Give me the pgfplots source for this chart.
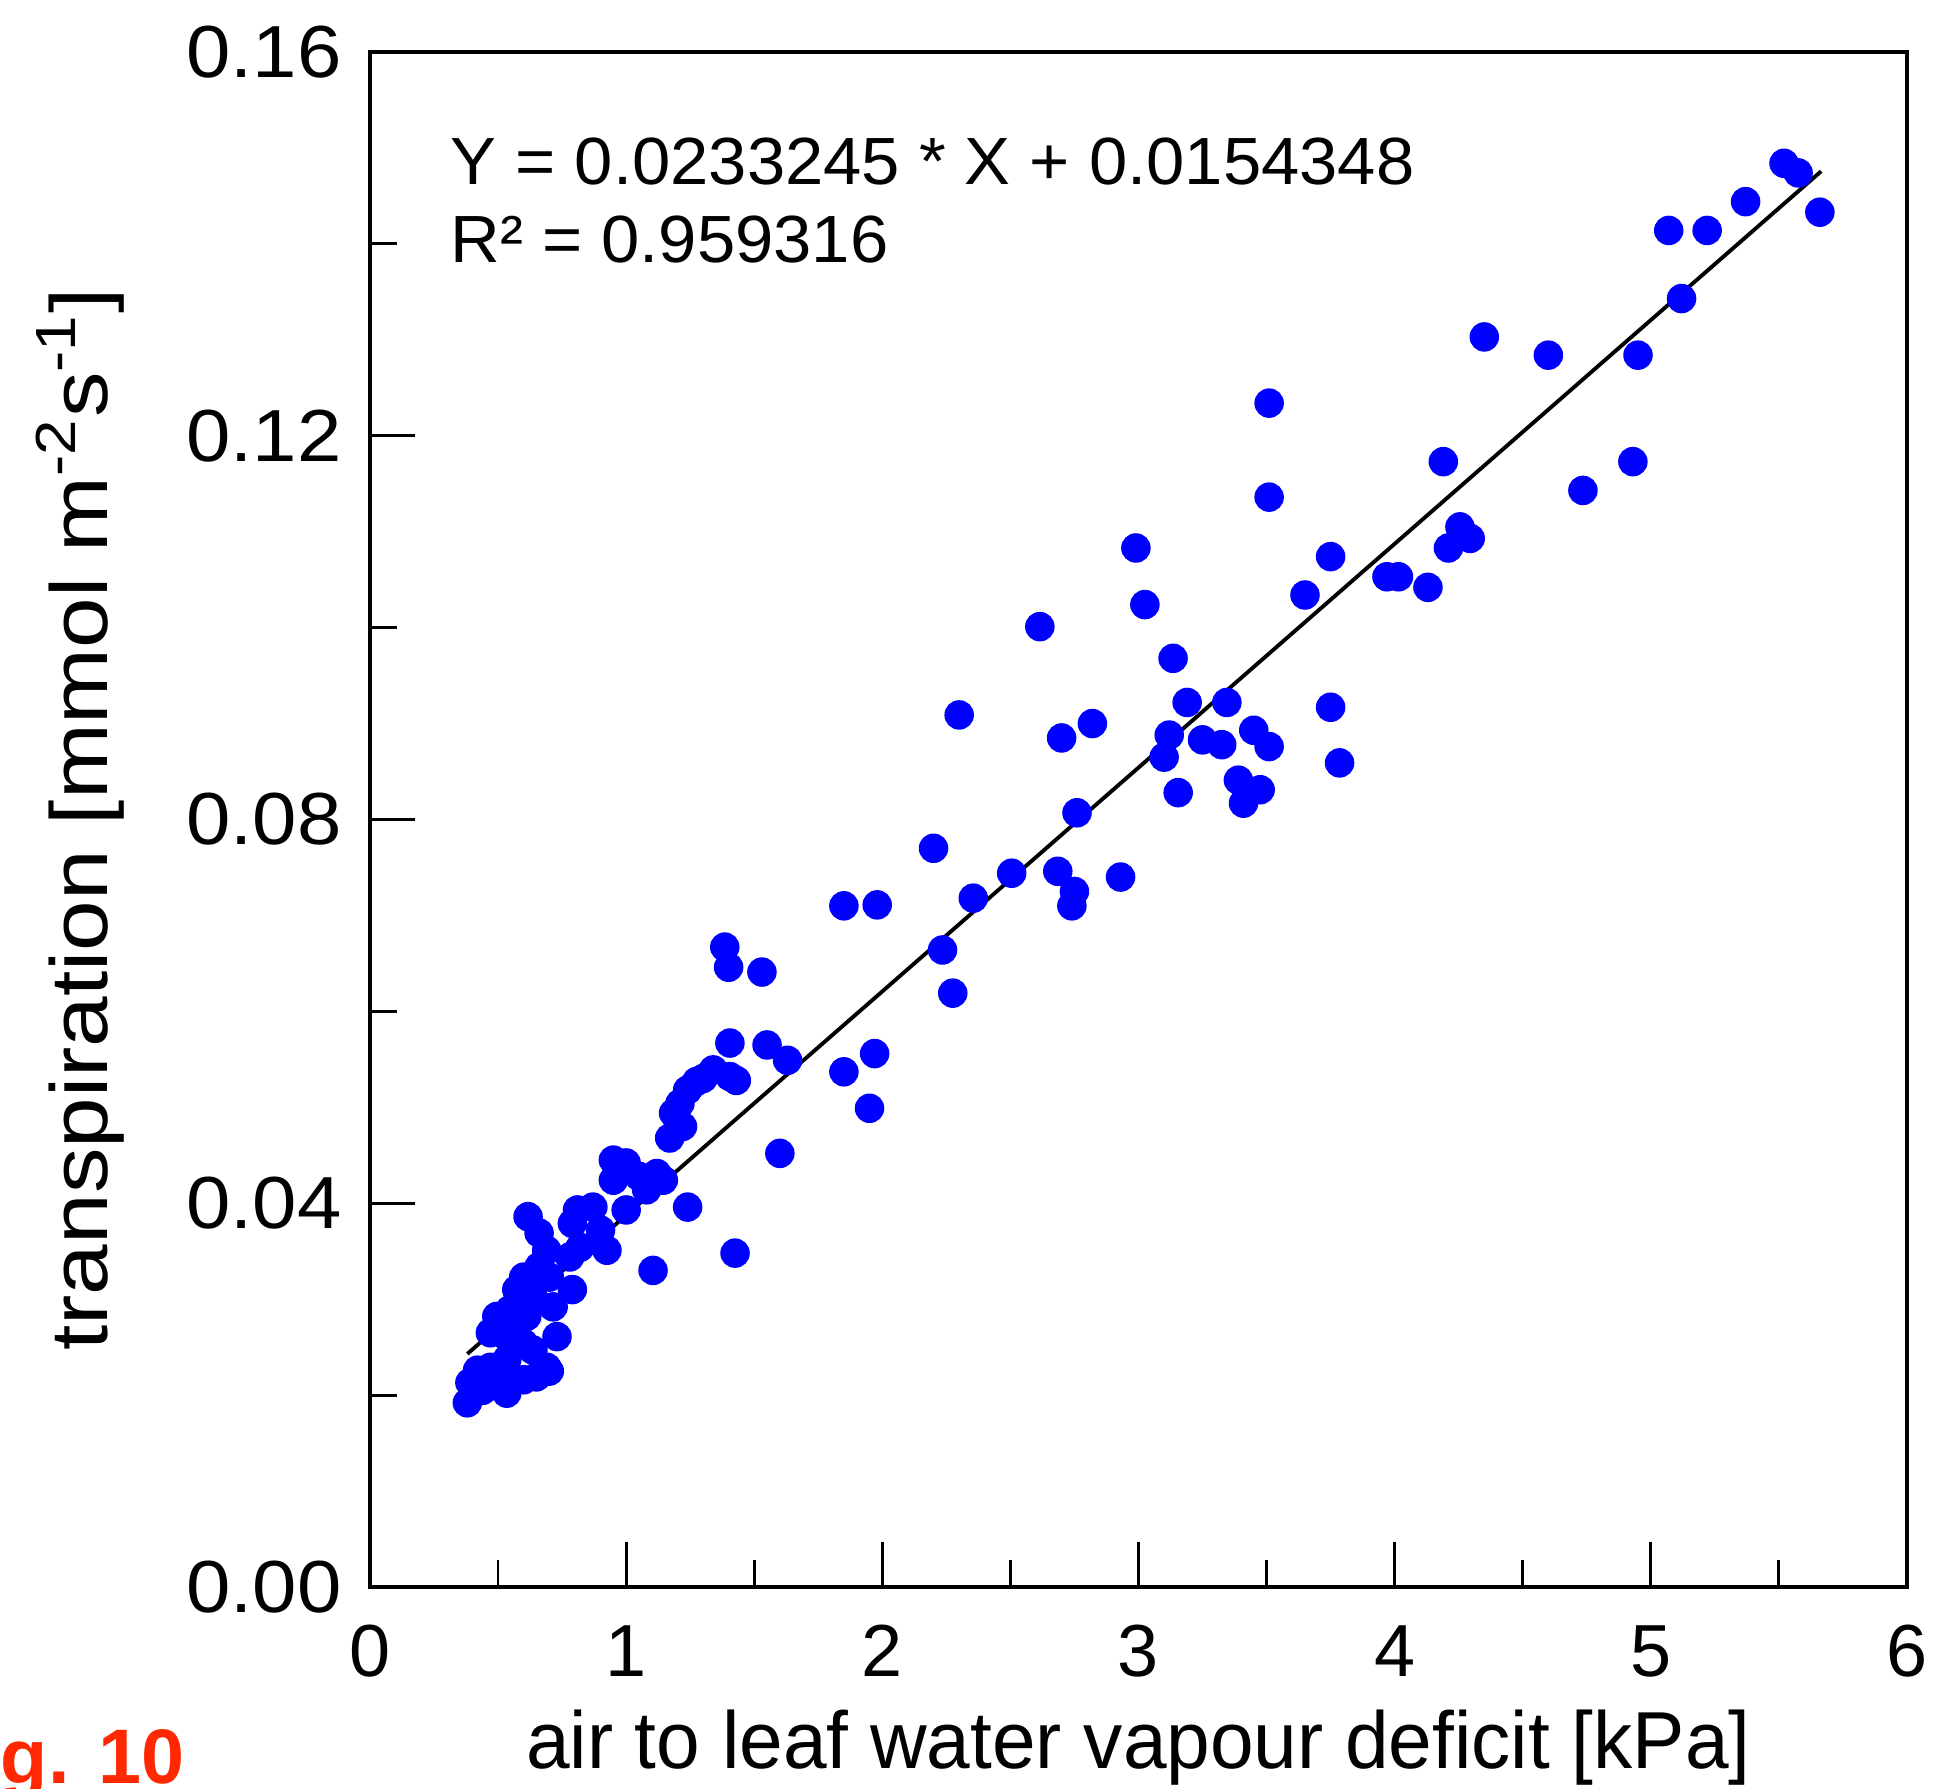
\documentclass[border=0pt]{standalone}
\usepackage{fontspec}
\setmainfont{Liberation Sans}
\usepackage{pgfplots}
\pgfplotsset{compat=1.18}
\definecolor{figred}{RGB}{255,40,0}
\begin{document}
\begin{tikzpicture}
\useasboundingbox (-3.70cm,-2.02cm) rectangle (15.63cm,15.87cm);
\begin{axis}[
  at={(0,0)}, anchor=south west,
  width=15.37cm, height=15.35cm, scale only axis,
  xmin=0, xmax=6, ymin=0, ymax=0.16,
  xtick={0,1,2,3,4,5,6},
  minor xtick={0.5,1.5,2.5,3.5,4.5,5.5},
  ytick={0,0.04,0.08,0.12,0.16},
  yticklabels={0.00,0.04,0.08,0.12,0.16},
  minor ytick={0.02,0.06,0.10,0.14},
  xtick pos=bottom, ytick pos=left,
  tick align=inside,
  major tick length=0.45cm, minor tick length=0.27cm,
  axis line style={line width=0.9pt},
  every tick/.style={black, line width=0.8pt},
  /pgf/number format/assume math mode=true,
  tick label style={font=\fontsize{21}{25}\selectfont},
  xticklabel style={yshift=-0.26cm},
  yticklabel style={xshift=-0.15cm, xscale=1.08},
  clip=false,
]
\addplot[only marks, mark=*, mark size=4pt, color={rgb,255:red,0;green,0;blue,255}] table {
x y
5.52 0.1484
5.575 0.1474
5.66 0.1433
5.37 0.1444
5.22 0.1414
5.07 0.1414
5.12 0.1343
4.95 0.1284
4.60 0.1284
4.35 0.1303
4.93 0.1173
4.735 0.1143
4.19 0.1173
4.255 0.1105
4.295 0.1093
4.21 0.1083
4.13 0.1042
3.97 0.1053
4.015 0.1053
3.75 0.1074
3.65 0.1034
3.51 0.1234
3.51 0.1136
2.99 0.1083
3.025 0.1024
2.615 0.1001
3.135 0.0968
3.19 0.0922
3.345 0.0922
3.75 0.0917
2.30 0.0909
2.82 0.0900
2.70 0.0885
3.12 0.0888
3.10 0.0865
3.25 0.0883
3.325 0.0878
3.45 0.0893
3.51 0.0876
3.785 0.0859
3.155 0.0828
3.39 0.0841
3.475 0.0831
3.41 0.0817
2.76 0.0807
2.20 0.0770
2.505 0.0744
2.685 0.0746
2.75 0.0725
2.74 0.0710
2.93 0.0740
2.355 0.0718
1.85 0.0710
1.98 0.0711
2.235 0.0664
2.275 0.0619
1.385 0.0667
1.40 0.0646
1.53 0.0641
1.405 0.0567
1.55 0.0565
1.63 0.0549
1.85 0.0537
1.97 0.0556
1.95 0.0499
1.60 0.0452
1.24 0.0396
1.425 0.0348
1.105 0.0330
1.43 0.0528
1.405 0.0532
1.34 0.0539
1.30 0.0530
1.275 0.0527
1.24 0.0518
1.21 0.0504
1.185 0.0494
1.22 0.0480
1.17 0.0468
0.95 0.0445
1.00 0.0442
0.95 0.0424
1.05 0.0428
1.12 0.0431
1.145 0.0424
1.00 0.0393
1.08 0.0414
0.617 0.0386
0.66 0.0369
0.81 0.0393
0.87 0.0396
0.79 0.0379
0.90 0.0372
0.925 0.0351
0.82 0.0354
0.78 0.0344
0.69 0.0351
0.66 0.0334
0.70 0.0323
0.79 0.0310
0.60 0.0323
0.573 0.0310
0.636 0.0302
0.546 0.0289
0.612 0.0282
0.715 0.0292
0.73 0.0261
0.495 0.0282
0.47 0.0265
0.534 0.0261
0.60 0.0254
0.636 0.0247
0.69 0.0229
0.65 0.0219
0.534 0.0237
0.47 0.0229
0.42 0.0226
0.39 0.0213
0.51 0.0213
0.44 0.0205
0.38 0.0192
0.534 0.0202
0.60 0.0216
0.70 0.0225
};
\addplot[black, line width=1.1pt] coordinates {(0.38,0.024298) (5.665,0.147567)};
\end{axis}
\node[anchor=base west, font=\fontsize{19}{23}\selectfont, xscale=1.03, inner sep=0pt] at (0.80cm,14.02cm) {Y = 0.0233245 * X + 0.0154348};
\node[anchor=base west, font=\fontsize{19}{23}\selectfont, xscale=1.03, inner sep=0pt] at (0.80cm,13.24cm) {R² = 0.959316};
\node[anchor=base, font=\fontsize{23}{28}\selectfont, xscale=0.97, inner sep=0pt] at (7.685cm,-1.82cm) {air to leaf water vapour deficit [kPa]};
\node[rotate=90, xscale=1.125, anchor=center, font=\fontsize{23}{28}\selectfont, inner sep=0pt] at (-2.9cm,7.675cm) {transpiration [mmol m\textsuperscript{-2}s\textsuperscript{-1}]};
\node[anchor=base east, font=\fontsize{22}{26}\selectfont\bfseries, text=figred, inner sep=0pt] at (-1.85cm,-1.97cm) {Fig. 10};
\end{tikzpicture}
\end{document}
